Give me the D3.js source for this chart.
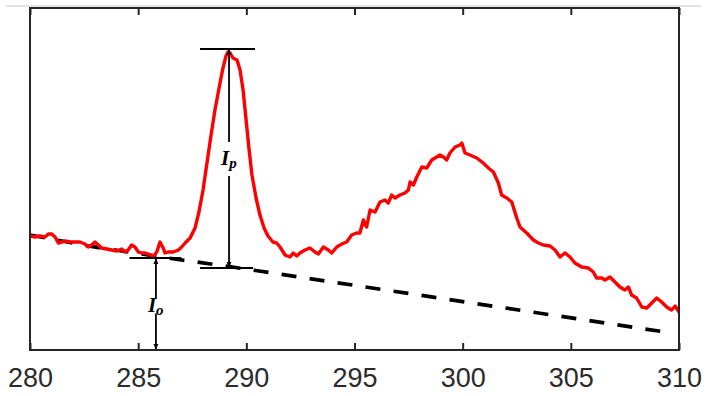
<!DOCTYPE html>
<html>
<head>
<meta charset="utf-8">
<script src="https://cdn.jsdelivr.net/npm/d3@7"></script>
<style>
  body { margin: 0; background: #fff; }
  svg { display: block; }
</style>
</head>
<body>
<svg id="chart" width="707" height="396"></svg>
<script>
// binding energy (eV) and intensity (a.u.)
const energy = [280.00, 280.23, 280.46, 280.69, 280.85, 281.00, 281.16, 281.31, 281.47, 281.62,
  281.85, 282.08, 282.31, 282.54, 282.69, 282.85, 283.00, 283.16, 283.31, 283.55,
  283.78, 284.01, 284.24, 284.39, 284.54, 284.70, 284.85, 285.01, 285.16, 285.32,
  285.47, 285.70, 285.86, 286.01, 286.16, 286.24, 286.39, 286.62, 286.86, 287.01,
  287.17, 287.40, 287.63, 287.81, 288.00, 288.18, 288.37, 288.55, 288.74, 288.92,
  289.06, 289.15, 289.25, 289.38, 289.57, 289.71, 289.85, 289.98, 290.12, 290.26,
  290.45, 290.63, 290.82, 291.00, 291.23, 291.40, 291.56, 291.79, 292.02, 292.17,
  292.33, 292.48, 292.71, 292.94, 293.17, 293.33, 293.56, 293.79, 293.95, 294.18,
  294.41, 294.64, 294.87, 295.10, 295.25, 295.41, 295.56, 295.72, 295.95, 296.18,
  296.41, 296.56, 296.72, 296.87, 297.10, 297.33, 297.49, 297.57, 297.72, 297.88,
  298.11, 298.34, 298.57, 298.80, 298.95, 299.11, 299.26, 299.41, 299.65, 299.88,
  299.96, 300.11, 300.34, 300.65, 300.95, 301.19, 301.42, 301.65, 301.80, 302.04,
  302.27, 302.50, 302.65, 302.96, 303.27, 303.50, 303.73, 304.04, 304.27, 304.50,
  304.73, 304.96, 305.19, 305.50, 305.81, 306.04, 306.19, 306.43, 306.58, 306.81,
  307.04, 307.27, 307.50, 307.66, 307.81, 308.04, 308.28, 308.51, 308.74, 308.97,
  309.20, 309.43, 309.66, 309.82, 310.00];
const intensity = [1.14, 1.13, 1.14, 1.13, 1.16, 1.16, 1.13, 1.07, 1.08, 1.09,
  1.08, 1.08, 1.08, 1.06, 1.03, 1.05, 1.08, 1.05, 1.02, 1.01,
  1.00, 0.99, 1.01, 0.98, 1.00, 1.05, 1.03, 0.98, 0.97, 0.97,
  0.96, 0.94, 0.98, 1.08, 1.02, 0.97, 0.98, 0.98, 1.00, 1.03,
  1.07, 1.12, 1.22, 1.38, 1.60, 1.87, 2.15, 2.40, 2.62, 2.82,
  2.94, 2.98, 2.97, 2.92, 2.90, 2.80, 2.60, 2.32, 2.02, 1.75,
  1.52, 1.35, 1.22, 1.14, 1.08, 1.07, 1.03, 0.95, 0.93, 0.97,
  0.94, 0.97, 1.00, 1.02, 0.98, 0.96, 1.03, 1.00, 0.97, 1.03,
  1.06, 1.08, 1.15, 1.17, 1.17, 1.30, 1.23, 1.40, 1.38, 1.48,
  1.50, 1.47, 1.55, 1.52, 1.55, 1.57, 1.60, 1.68, 1.65, 1.73,
  1.83, 1.82, 1.90, 1.93, 1.95, 1.93, 1.90, 1.97, 2.03, 2.05,
  2.07, 1.97, 1.95, 1.92, 1.87, 1.82, 1.78, 1.67, 1.55, 1.52,
  1.48, 1.32, 1.23, 1.17, 1.10, 1.07, 1.05, 1.04, 1.00, 0.93,
  0.97, 0.93, 0.87, 0.83, 0.82, 0.78, 0.72, 0.72, 0.70, 0.73,
  0.68, 0.63, 0.60, 0.63, 0.55, 0.52, 0.43, 0.42, 0.47, 0.52,
  0.48, 0.43, 0.40, 0.44, 0.38];

// background line (dashed)
const baseEnergy = [280.0, 282.7, 287.0, 289.2, 309.35];
const baseIntensity = [1.15, 1.04, 0.90, 0.835, 0.18];

const xTicks = [280, 285, 290, 295, 300, 305, 310];

// annotation values
const ipEnergy = 289.2, ipTop = 3.01, ipBottom = 0.82, ipCap = [287.86, 290.4], ipCapLow = [287.86, 290.31];
const ioEnergy = 285.82, ioTop = 0.92, ioCap = [284.6, 287.0];

const width = 707, height = 396;
const margin = { top: 8, right: 28, bottom: 46, left: 30 };

const svg = d3.select("#chart");

// thin grey rule at the very top of the figure
svg.append("line").attr("x1", 6).attr("x2", 701).attr("y1", 6).attr("y2", 6)
    .attr("stroke", "#c8c8c8").attr("stroke-width", 1);

const x = d3.scaleLinear().domain([280, 310]).range([margin.left, width - margin.right]);
const y = d3.scaleLinear().domain([0, 3.42]).range([height - margin.bottom, margin.top]);

svg.append("defs").append("marker")
    .attr("id", "arr").attr("viewBox", "0 0 10 10").attr("refX", 10).attr("refY", 5)
    .attr("markerWidth", 6).attr("markerHeight", 6).attr("markerUnits", "userSpaceOnUse")
    .attr("orient", "auto-start-reverse")
    .append("path").attr("d", "M0,1 L10,5 L0,9 Z").attr("fill", "#000");

// axes
const gx = svg.append("g")
    .attr("transform", `translate(0,${height - margin.bottom})`)
    .call(d3.axisBottom(x).tickValues(xTicks).tickSizeInner(-7).tickSizeOuter(0).tickPadding(18));
gx.select(".domain").remove();
gx.selectAll("line").attr("stroke", "#262626").attr("stroke-width", 2);
gx.selectAll("text").attr("fill", "#2b2b2b").style("font-family", "'Liberation Sans', Arial, sans-serif").style("font-size", "27px");

const gxTop = svg.append("g")
    .attr("transform", `translate(0,${margin.top})`)
    .call(d3.axisTop(x).tickValues(xTicks).tickSizeInner(-7).tickSizeOuter(0).tickFormat(""));
gxTop.select(".domain").remove();
gxTop.selectAll("line").attr("stroke", "#262626").attr("stroke-width", 2);

// baseline
const line = d3.line().x(d => x(d[0])).y(d => y(d[1]));
svg.append("path")
    .datum(baseEnergy.map((e, i) => [e, baseIntensity[i]]))
    .attr("d", line).attr("fill", "none").attr("stroke", "#000")
    .attr("stroke-width", 3.7).attr("stroke-dasharray", "15,13.3");

// spectrum
svg.append("path")
    .datum(energy.map((e, i) => [e, intensity[i]]))
    .attr("d", line).attr("fill", "none").attr("stroke", "#ff0000")
    .attr("stroke-width", 3.4).attr("stroke-linejoin", "round");

// I_p annotation
const ann = svg.append("g").attr("stroke", "#000").attr("stroke-width", 1.8);
ann.append("line").attr("x1", x(ipCap[0])).attr("x2", x(ipCap[1])).attr("y1", y(ipTop)).attr("y2", y(ipTop));
ann.append("line").attr("x1", x(ipCapLow[0])).attr("x2", x(ipCapLow[1])).attr("y1", y(ipBottom)).attr("y2", y(ipBottom));
ann.append("line").attr("x1", x(ipEnergy)).attr("x2", x(ipEnergy)).attr("y1", y(ipBottom)).attr("y2", y(ipTop))
    .attr("marker-start", "url(#arr)").attr("marker-end", "url(#arr)");

// I_o annotation
ann.append("line").attr("x1", x(ioCap[0])).attr("x2", x(ioCap[1])).attr("y1", y(ioTop)).attr("y2", y(ioTop));
ann.append("line").attr("x1", x(ioEnergy)).attr("x2", x(ioEnergy)).attr("y1", y(0)).attr("y2", y(ioTop))
    .attr("marker-start", "url(#arr)").attr("marker-end", "url(#arr)");

function label(cx, cy, gapH, main, sub) {
    svg.append("rect").attr("x", cx - 10).attr("y", cy - gapH / 2).attr("width", 20).attr("height", gapH).attr("fill", "#fff");
    const t = svg.append("text").attr("x", cx - 8).attr("y", cy + 6)
        .style("font-family", "'Liberation Serif', 'Times New Roman', serif")
        .style("font-weight", "bold").style("font-style", "italic").style("font-size", "21px");
    t.append("tspan").text(main);
    t.append("tspan").attr("dy", 3).style("font-size", "15px").text(sub);
}
label(x(ipEnergy), 159, 34, "I", "p");
label(x(ioEnergy), 306, 15, "I", "o");

// frame
svg.append("rect")
    .attr("x", margin.left).attr("y", margin.top)
    .attr("width", width - margin.left - margin.right)
    .attr("height", height - margin.top - margin.bottom)
    .attr("fill", "none").attr("stroke", "#262626").attr("stroke-width", 2);
</script>
</body>
</html>
